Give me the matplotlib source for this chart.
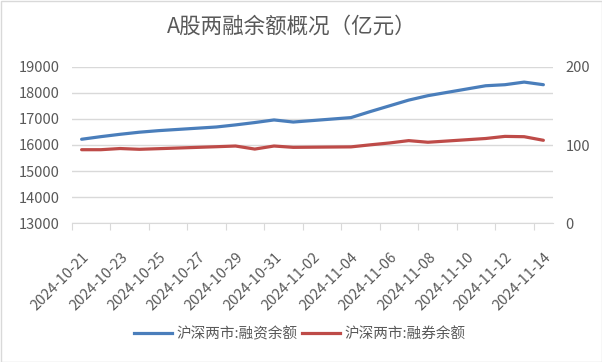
import matplotlib
matplotlib.use("Agg")
import matplotlib.pyplot as plt
import matplotlib.transforms as mtransforms
import matplotlib.patches as patches
import pandas as pd

plt.rcParams['font.family'] = ['Noto Sans CJK SC', 'DejaVu Sans']

# 交易日
dates = ["2024-10-21", "2024-10-22", "2024-10-23", "2024-10-24", "2024-10-25",
         "2024-10-28", "2024-10-29", "2024-10-30", "2024-10-31", "2024-11-01",
         "2024-11-04", "2024-11-05", "2024-11-06", "2024-11-07", "2024-11-08",
         "2024-11-11", "2024-11-12", "2024-11-13", "2024-11-14"]
# 融资余额 (左轴, 亿元)
financing = [16220, 16320, 16410, 16490, 16550,
             16690, 16770, 16860, 16960, 16880,
             17050, 17280, 17500, 17720, 17890,
             18270, 18310, 18410, 18310]
# 融券余额 (右轴, 亿元)
lending = [94.0, 94.0, 95.5, 94.5, 95.3,
           97.8, 98.7, 94.8, 98.7, 97.0,
           97.6, 100.2, 102.6, 105.6, 103.5,
           108.3, 111.0, 110.6, 106.0]

tick_dates = pd.date_range("2024-10-21", "2024-11-14", freq="2D")
label_financing = "沪深两市:融资余额"
label_lending = "沪深两市:融券余额"
title = "A股两融余额概况（亿元）"

start = pd.Timestamp("2024-10-21")
x = [(pd.Timestamp(d) - start).days + 0.5 for d in dates]
tick_pos = [(d - start).days for d in tick_dates]
tick_lab = [d.strftime("%Y-%m-%d") for d in tick_dates]

W, H = 602, 362
fig = plt.figure(figsize=(W / 100, H / 100), dpi=100)
ax = fig.add_axes([72 / W, 1 - 223.3 / H, (553 - 72) / W, (223.3 - 66.7) / H])
ax2 = ax.twinx()

grey = '#595959'
grid = '#d9d9d9'
blue = '#4a7ebb'
red = '#be4b48'

ax.set_ylim(13000, 19000)
ax.set_yticks(range(13000, 19001, 1000))
ax2.set_ylim(0, 200)
ax2.set_yticks([0, 100, 200])
ax.set_xlim(0, 25)
ax.grid(axis='y', color=grid, lw=1)
ax.set_axisbelow(True)

ax.plot(x, financing, color=blue, lw=2.3, solid_capstyle='round', zorder=3)
ax2.plot(x, lending, color=red, lw=2.3, solid_capstyle='round', zorder=3)

for a in (ax, ax2):
    for s in ('top', 'left', 'right'):
        a.spines[s].set_visible(False)
    a.spines['bottom'].set_color(grid)
    a.tick_params(axis='y', length=0, labelsize=10.5, labelcolor=grey, pad=9)
ax2.spines['bottom'].set_visible(False)

ax.set_xticks(tick_pos)
ax.set_xticklabels(tick_lab, rotation=45, ha='right', va='top',
                   rotation_mode='anchor', fontsize=10.5, color=grey)
ax.tick_params(axis='x', length=5, color=grid, pad=0)
offset = mtransforms.ScaledTranslation(10 / 100, -20 / 100, fig.dpi_scale_trans)
for lab in ax.get_xticklabels():
    lab.set_transform(lab.get_transform() + offset)

fig.text(292 / W, 1 - 27 / H, title, ha='center', va='center',
         fontsize=15.5, color=grey)

h1, = ax.plot([], [], color=blue, lw=2.3)
h2, = ax.plot([], [], color=red, lw=2.3)
fig.legend([h1, h2], [label_financing, label_lending], loc='center',
           bbox_to_anchor=(300 / W, 1 - 334 / H), ncol=2, frameon=False,
           fontsize=10.5, labelcolor=grey, handlelength=2.6, handletextpad=0.3,
           columnspacing=0.3)

fig.patches.append(patches.Rectangle((0.5 / W, 0.5 / H), 1 - 1 / W, 1 - 1 / H,
                                     transform=fig.transFigure, fill=False,
                                     ec=grid, lw=1))

fig.savefig("out.png", dpi=100)
